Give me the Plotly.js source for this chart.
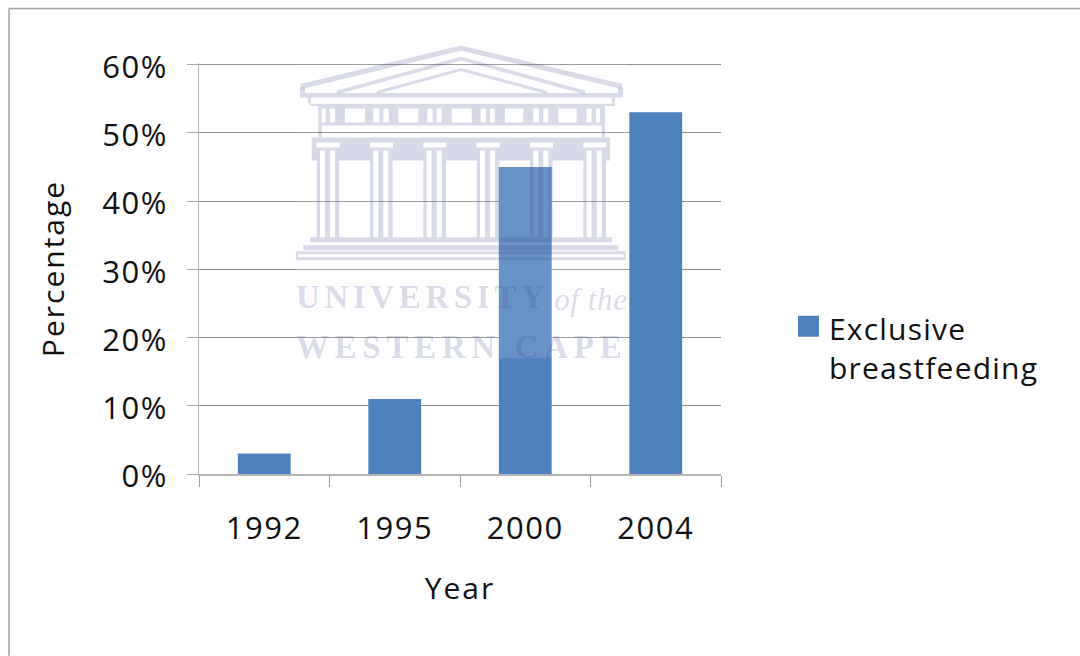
<!DOCTYPE html>
<html>
<head>
<meta charset="utf-8">
<script src="https://cdn.plot.ly/plotly-3.0.1.min.js"></script>
<style>
html,body{margin:0;padding:0;background:#fff}
#chart{width:1080px;height:656px}
.xtick text,.ytick text{letter-spacing:1.5px}
.legendtext{letter-spacing:1.2px}
.xtitle,.ytitle{letter-spacing:2px}
g.ytick{transform:translateY(2.5px)}
.annotation[data-index="0"] text{letter-spacing:4.6px}
.annotation[data-index="1"] text{letter-spacing:5.7px}
.annotation[data-index="2"] text{letter-spacing:0.6px}
</style>
</head>
<body>
<div id="chart"></div>
<script>
var years = ['1992', '1995', '2000', '2004'];
var exclusiveBreastfeeding = [0.03, 0.11, 0.45, 0.53];
var seriesName = 'Exclusive<br>breastfeeding';

var W = 1080, H = 656, L = 199, R = 721, T = 62.5, B = 474;
var px = function (x) { return (x - L) / (R - L); };
var py = function (y) { return (B - y) / (B - T); };
var zx = function (z) { return 290 + z / 3; };
var wm = 'rgba(60,70,140,0.2)';
var FONT = '"Open Sans", sans-serif';

function rect(x0, y0, x1, y1, c) {
  return {type:'rect', xref:'paper', yref:'paper', x0:px(x0), x1:px(x1), y0:py(y0), y1:py(y1),
    fillcolor:c||wm, line:{width:0}, layer:'above'};
}
function seg(x0, y0, x1, y1, w, c) {
  return {type:'line', xref:'paper', yref:'paper', x0:px(x0), x1:px(x1), y0:py(y0), y1:py(y1),
    line:{color:c||wm, width:w}, layer:'above'};
}
function poly(pts, w) {
  var d = pts.map(function (p, i) { return (i ? 'L' : 'M') + px(p[0]) + ',' + py(p[1]); }).join(' ');
  return {type:'path', xref:'paper', yref:'paper', path:d, line:{color:wm, width:w}, layer:'above'};
}
function box(x0, y0, x1, y1) {
  return 'M' + px(x0) + ',' + py(y0) + ' L' + px(x1) + ',' + py(y0) + ' L' + px(x1) + ',' + py(y1) + ' L' + px(x0) + ',' + py(y1) + ' Z ';
}
function holed(outer, holes) {
  var d = box.apply(null, outer);
  holes.forEach(function (h) { d += box.apply(null, h); });
  return {type:'path', xref:'paper', yref:'paper', path:d, fillcolor:wm, fillrule:'evenodd', line:{width:0}, layer:'above'};
}

var shapes = [];
/* chart frame */
shapes.push(seg(9, 8, W, 8, 1.5, '#a0a0a0'));
shapes.push(seg(9, 8, 9, H, 1.5, '#a0a0a0'));
/* watermark veil */
shapes.push(rect(296, 45, 627, 358, 'rgba(255,255,255,0.15)'));
/* pediment */
shapes.push(poly([[301, 86], [461, 47.5], [622, 86]], 5));
shapes.push(poly([[337, 92], [461, 58], [585, 92]], 3.5));
shapes.push(poly([[377, 92], [461, 69], [547, 92]], 3));
shapes.push(rect(300, 92.5, 623, 97));
shapes.push(rect(300, 87, 305, 92.5));
shapes.push(rect(618, 87, 623, 92.5));
shapes.push(rect(308, 97, 311, 103));
shapes.push(rect(612, 97, 615, 103));
/* frieze with windows */
var friezeGaps = [[95,107],[120,135],[165,225],[250,268],[280,296],[325,385],[412,428],[440,455],[485,545],[572,588],[600,614],[645,700],[730,747],[760,775],[805,860],[890,905],[918,930]];
shapes.push(holed([zx(60), 103.3, zx(975), 105.5], []));
shapes.push(holed([zx(85), 105.5, zx(945), 125], friezeGaps.map(function (g) { return [zx(g[0]), 108, zx(g[1]), 122]; })));
shapes.push(rect(zx(85), 125, zx(95), 137));
shapes.push(rect(zx(935), 125, zx(945), 137));
/* capital band and columns */
var colStarts = [80, 240, 400, 560, 720, 880];
var capHoles = [];
colStarts.forEach(function (z) {
  capHoles.push([zx(z), 142, zx(z + 69), 147]);
  capHoles.push([zx(z + 10), 150, zx(z + 25), 160]);
  capHoles.push([zx(z + 40), 150, zx(z + 55), 160]);
});
shapes.push(holed([zx(65), 137, zx(960), 160], capHoles));
colStarts.forEach(function (z) {
  shapes.push(rect(zx(z), 160, zx(z + 10), 237));
  shapes.push(rect(zx(z + 25), 160, zx(z + 40), 237));
  shapes.push(rect(zx(z + 55), 160, zx(z + 68), 237));
});
/* steps */
shapes.push(rect(zx(60), 237, zx(965), 242));
shapes.push(rect(zx(40), 245, zx(985), 250));
shapes.push(rect(zx(18), 251, zx(1007), 254));
shapes.push(rect(zx(18), 257, zx(1007), 260));
shapes.push(rect(zx(18), 254, zx(24), 257));
shapes.push(rect(zx(1001), 254, zx(1007), 257));

var data = [{
  type: 'bar',
  x: years,
  y: exclusiveBreastfeeding,
  name: seriesName,
  showlegend: true,
  marker: {color: '#4f81bd', line: {width: 0}}
}];

var layout = {
  width: W, height: H,
  margin: {l: L, r: W - R, t: T, b: H - B, pad: 0},
  paper_bgcolor: '#fff', plot_bgcolor: '#fff',
  bargap: 0.595,
  font: {family: FONT, color: '#111', size: 30},
  xaxis: {
    type: 'category',
    showgrid: false, zeroline: false,
    showline: true, linecolor: '#b4b4b4', linewidth: 1.5,
    ticks: 'outside', tickson: 'boundaries', ticklen: 11, tickcolor: '#a0a0a0', tickwidth: 1,
    ticklabelstandoff: 26,
    tickfont: {family: FONT, size: 31, color: '#111'},
    title: {text: 'Year', standoff: 31, font: {family: FONT, size: 30, color: '#111'}}
  },
  yaxis: {
    range: [0, 0.6022],
    tick0: 0, dtick: 0.1,
    tickformat: '.0%',
    showgrid: true, gridcolor: '#8c8c8c', gridwidth: 1,
    zeroline: false,
    showline: true, linecolor: '#b4b4b4', linewidth: 1,
    ticks: 'outside', ticklen: 11, tickcolor: '#a8a8a8', tickwidth: 1,
    ticklabelstandoff: 13,
    tickfont: {family: FONT, size: 31, color: '#111'},
    title: {text: 'Percentage', standoff: 28, font: {family: FONT, size: 30, color: '#111'}}
  },
  legend: {
    x: (789 - L) / (R - L), xanchor: 'left',
    y: py(302), yanchor: 'top',
    bgcolor: 'rgba(0,0,0,0)', borderwidth: 0,
    font: {family: FONT, size: 30, color: '#111'},
    itemwidth: 30
  },
  shapes: shapes,
  annotations: [
    {xref:'paper', yref:'paper', x:px(422.5), y:py(297), xanchor:'center', yanchor:'middle', showarrow:false,
     text:'<b>UNIVERSITY</b>',
     font:{family:'"Liberation Serif", serif', size:33, color:wm}},
    {xref:'paper', yref:'paper', x:px(461.5), y:py(347), xanchor:'center', yanchor:'middle', showarrow:false,
     text:'<b>WESTERN CAPE</b>',
     font:{family:'"Liberation Serif", serif', size:33, color:wm}},
    {xref:'paper', yref:'paper', x:px(591), y:py(299), xanchor:'center', yanchor:'middle', showarrow:false,
     text:'<i>of the</i>',
     font:{family:'"Liberation Serif", serif', size:31, color:wm}}
  ]
};

Plotly.newPlot('chart', data, layout, {displayModeBar: false, responsive: false}).then(function () {
  var p = document.querySelector('#chart .legendpoints path');
  if (p) { p.setAttribute('transform', 'translate(19.5,-21.5) scale(1.75)'); }
});
</script>
</body>
</html>
